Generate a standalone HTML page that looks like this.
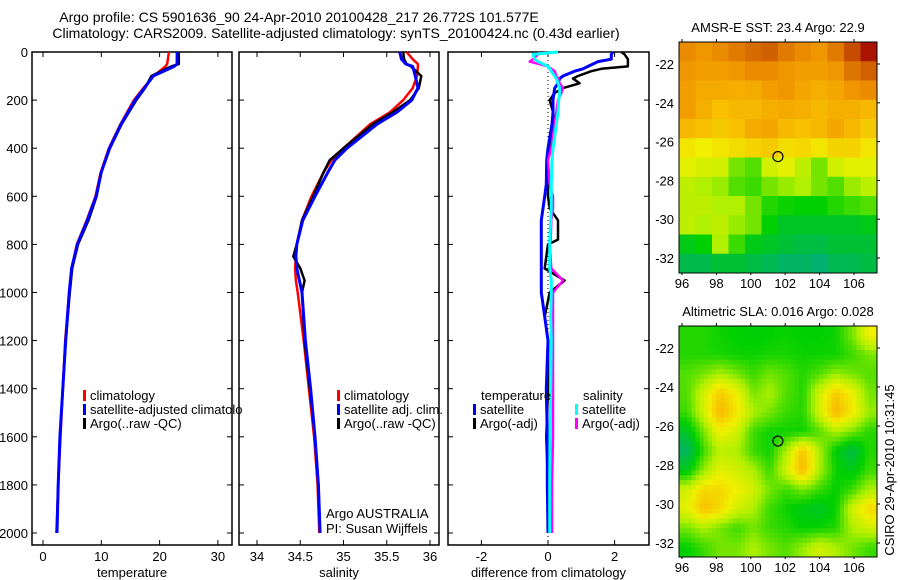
<!DOCTYPE html>
<html><head><meta charset="utf-8"><style>
body{margin:0;background:#fff;}
svg{display:block;font-family:"Liberation Sans",sans-serif;}
text{fill:#000;}
</style></head><body>
<svg id="fig" width="900" height="580" viewBox="0 0 900 580">
<text x="299" y="22" font-size="14" text-anchor="middle">Argo profile: CS 5901636_90 24-Apr-2010 20100428_217 26.772S 101.577E</text>
<text x="336" y="38" font-size="14" text-anchor="middle">Climatology: CARS2009. Satellite-adjusted climatology: synTS_20100424.nc (0.43d earlier)</text>
<g id="p1"></g>
<g id="p2"></g>
<g id="p3"></g>
<g id="m1"></g>
<g id="m2"></g>
<text transform="translate(894,470) rotate(-90)" font-size="13" text-anchor="middle">CSIRO 29-Apr-2010 10:31:45</text>
</svg>
<script>
// ---- data ----
const tempDepth=[0,50,60,100,150,200,300,400,500,600,700,800,900,1000,1200,1400,1600,1800,2000];
const tempArgo=[23.3,23.3,22.0,18.6,17.5,16.0,13.5,11.5,10.0,9.2,7.8,6.0,5.0,4.6,3.9,3.4,2.9,2.6,2.4];
const tempSat=[23.0,23.0,22.5,18.9,17.4,15.8,13.4,11.4,10.0,9.1,7.6,5.9,4.9,4.5,3.9,3.4,2.9,2.6,2.4];
const tempClim=[21.6,21.3,21.0,19.0,17.2,15.6,13.3,11.3,9.9,9.0,7.5,5.8,4.9,4.5,3.8,3.4,3.0,2.6,2.3];
const salDepth=[0,30,50,60,100,150,200,250,300,400,450,500,600,700,800,850,900,950,1000,1200,1400,1600,1800,2000];
const salArgo=[35.69,35.70,35.73,35.78,35.90,35.87,35.77,35.57,35.34,35.00,34.84,34.77,34.65,34.52,34.46,34.42,34.50,34.55,34.52,34.55,34.61,34.67,34.71,34.73];
const salClim=[35.73,35.80,35.86,35.86,35.85,35.80,35.69,35.54,35.31,35.00,34.86,34.77,34.63,34.52,34.46,34.45,34.44,34.45,34.47,34.54,34.60,34.66,34.70,34.72];
const salSat=[35.65,35.67,35.72,35.80,35.83,35.86,35.79,35.62,35.39,35.04,34.90,34.82,34.67,34.53,34.46,34.45,34.46,34.49,34.52,34.56,34.62,34.67,34.71,34.73];
const diffDepth=[0,10,30,40,60,70,80,100,110,130,150,170,200,250,300,350,400,450,550,600,650,700,780,800,900,950,1000,1100,1200,1400,1600,1800,2000];
const diffTSat=[1.95,1.9,1.9,1.5,1.2,1.05,0.8,0.45,0.35,0.3,0.2,0.18,0.15,0.15,0.12,0.06,0.0,-0.04,-0.05,-0.1,-0.15,-0.2,-0.2,-0.2,-0.2,-0.2,-0.2,-0.1,0.0,-0.05,-0.02,-0.02,0.0];
const diffTArgo=[2.2,2.3,2.4,2.4,2.4,1.6,1.3,0.9,0.75,0.95,0.45,0.2,0.05,0.15,0.2,0.1,0.05,-0.03,0.0,0.0,0.05,0.3,0.3,0.0,-0.1,0.5,0.05,-0.1,0.0,0.0,-0.05,0.0,0.0];
const diffSSat=[0.3,-0.45,-0.4,-0.3,0.0,0.06,0.1,0.2,0.25,0.3,0.35,0.35,0.32,0.3,0.25,0.2,0.15,0.12,0.1,0.1,0.1,0.08,0.05,0.05,0.05,0.1,0.1,0.08,0.1,0.08,0.06,0.05,0.05];
const diffSArgo=[-0.25,-0.3,-0.45,-0.55,0.0,0.1,0.2,0.25,0.3,0.35,0.45,0.4,0.3,0.25,0.2,0.15,0.1,0.0,0.05,0.15,0.15,0.1,0.08,0.05,0.1,0.45,0.15,0.15,0.15,0.15,0.15,0.12,0.12];
const depthTicks=[0,200,400,600,800,1000,1200,1400,1600,1800,2000];
const tempTicks=[0,10,20,30];
const salTicks=[34,34.5,35,35.5,36];
const diffTicks=[-2,0,2];
const mapLatTicks=[-22,-24,-26,-28,-30,-32];
const mapLonTicks=[96,98,100,102,104,106];
const sstGrid=[
[0.82,0.80,0.82,0.85,0.88,0.90,0.85,0.82,0.80,0.85,0.92,0.98],
[0.80,0.78,0.78,0.80,0.82,0.82,0.80,0.78,0.78,0.80,0.86,0.90],
[0.78,0.75,0.75,0.74,0.75,0.78,0.80,0.76,0.74,0.76,0.80,0.82],
[0.78,0.74,0.70,0.72,0.72,0.74,0.75,0.74,0.72,0.74,0.74,0.72],
[0.72,0.70,0.68,0.70,0.75,0.76,0.72,0.70,0.72,0.76,0.72,0.68],
[0.62,0.60,0.62,0.64,0.66,0.68,0.64,0.65,0.62,0.66,0.66,0.62],
[0.58,0.56,0.55,0.45,0.42,0.55,0.58,0.52,0.45,0.55,0.58,0.58],
[0.52,0.50,0.48,0.42,0.40,0.45,0.48,0.50,0.45,0.42,0.48,0.52],
[0.52,0.52,0.50,0.50,0.45,0.38,0.36,0.35,0.35,0.38,0.40,0.42],
[0.52,0.50,0.52,0.48,0.45,0.35,0.30,0.30,0.30,0.30,0.30,0.32],
[0.32,0.35,0.50,0.40,0.32,0.30,0.28,0.26,0.26,0.28,0.28,0.28],
[0.25,0.25,0.28,0.28,0.26,0.24,0.22,0.22,0.20,0.24,0.24,0.26]];
const slaGrid=[
[.38,.38,.36,.35,.34,.35,.36,.35,.35,.36,.45,.60],
[.38,.38,.37,.36,.36,.37,.37,.36,.36,.36,.40,.45],
[.42,.45,.50,.45,.40,.45,.42,.38,.42,.48,.45,.42],
[.42,.55,.68,.60,.45,.50,.42,.38,.55,.68,.60,.45],
[.40,.55,.72,.62,.50,.45,.40,.38,.55,.72,.62,.48],
[.30,.45,.60,.55,.40,.36,.36,.36,.42,.50,.45,.38],
[.22,.40,.52,.50,.40,.36,.50,.70,.50,.34,.25,.38],
[.32,.48,.58,.55,.50,.40,.55,.72,.50,.36,.32,.40],
[.55,.65,.65,.60,.55,.45,.40,.45,.40,.35,.40,.50],
[.58,.70,.65,.55,.50,.40,.36,.32,.30,.35,.55,.65],
[.45,.50,.45,.40,.45,.40,.38,.35,.36,.38,.50,.55],
[.35,.40,.45,.45,.50,.45,.42,.48,.55,.50,.45,.40]];
const argoLon=101.577, argoLat=-26.772;

// ---- helpers ----
const NS='http://www.w3.org/2000/svg';
function mk(parent,tag,attrs){const e=document.createElementNS(NS,tag);for(const k in attrs)e.setAttribute(k,attrs[k]);parent.appendChild(e);return e;}
const yD=d=>52+d*0.2405;
const axTop=52,axBot=545;
function panel(g,x0,x1,xs,ticks,lab,xlabel,showY){
  const r=mk(g,'rect',{x:x0,y:axTop,width:x1-x0,height:axBot-axTop,fill:'none',stroke:'#000','stroke-width':1.5});
  
  
  ticks.forEach(t=>{const x=xs(t);
    mk(g,'line',{x1:x,x2:x,y1:axBot,y2:axBot-5,stroke:'#000'});
    mk(g,'line',{x1:x,x2:x,y1:axTop,y2:axTop+5,stroke:'#000'});
    const tx=mk(g,'text',{x:x,y:axBot+16,'font-size':13,'text-anchor':'middle'});tx.textContent=lab(t);
    
    });
  depthTicks.forEach(d=>{const y=yD(d);
    mk(g,'line',{x1:x0,x2:x0+5,y1:y,y2:y,stroke:'#000'});
    mk(g,'line',{x1:x1,x2:x1-5,y1:y,y2:y,stroke:'#000'});
    if(showY){const tx=mk(g,'text',{x:x0-4,y:y+5,'font-size':13,'text-anchor':'end'});tx.textContent=d;
      
      }});
  const xl=mk(g,'text',{x:(x0+x1)/2,y:577,'font-size':13,'text-anchor':'middle'});xl.textContent=xlabel;
  
  
}
function line(g,xs,vals,depths,color,w,name){
  const pts=vals.map((v,i)=>xs(v).toFixed(1)+','+yD(depths[i]).toFixed(1)).join(' ');
  const p=mk(g,'polyline',{points:pts,fill:'none',stroke:color,'stroke-width':w,'stroke-linejoin':'round'});
  
  
}
function legend(g,x,y,color,label){
  mk(g,'rect',{x:x,y:y-10,width:3,height:11,fill:color});
  const t=mk(g,'text',{x:x+7,y:y,'font-size':13});t.textContent=label;
  
  
}
function txt(g,x,y,s,size,anchor,name){const t=mk(g,'text',{x:x,y:y,'font-size':size,'text-anchor':anchor||'start'});t.textContent=s;
  
  return t;}

// ---- panel 1 ----
const g1=document.getElementById('p1');
const xT=t=>43+t*5.83;
panel(g1,32,232,xT,tempTicks,t=>t,'temperature',true);
line(g1,xT,tempClim,tempDepth,'#f00',2.5,'temperature-climatology-line');
line(g1,xT,tempArgo,tempDepth,'#000',2.5,'temperature-argo-line');
line(g1,xT,tempSat,tempDepth,'#00f',3,'temperature-satellite-line');
legend(g1,83,400,'#f00','climatology');
legend(g1,83,414,'#00f','satellite-adjusted climatolo');
legend(g1,83,428,'#000','Argo(..raw -QC)');

// ---- panel 2 ----
const g2=document.getElementById('p2');
const xS=s=>257+(s-34)*86.5;
panel(g2,239,439,xS,salTicks,t=>t,'salinity',false);
line(g2,xS,salClim,salDepth,'#f00',2.5,'salinity-climatology-line');
line(g2,xS,salArgo,salDepth,'#000',2.5,'salinity-argo-line');
line(g2,xS,salSat,salDepth,'#00f',3,'salinity-satellite-line');
legend(g2,337,400,'#f00','climatology');
legend(g2,337,414,'#00f','satellite adj. clim.');
legend(g2,337,428,'#000','Argo(..raw -QC)');
txt(g2,326,518,'Argo AUSTRALIA',13,'start','argo-australia-label');
txt(g2,326,533,'PI: Susan Wijffels',13,'start','pi-label');

// ---- panel 3 ----
const g3=document.getElementById('p3');
const xDf=d=>548+d*33.3;
panel(g3,448,649,xDf,diffTicks,t=>t,'difference from climatology',false);
mk(g3,'line',{x1:xDf(0),x2:xDf(0),y1:axTop,y2:axBot,stroke:'#000','stroke-dasharray':'1,3'});
line(g3,xDf,diffTArgo,diffDepth,'#000',2.5,'diff-temp-argo-line');
line(g3,xDf,diffTSat,diffDepth,'#00f',3,'diff-temp-satellite-line');
line(g3,xDf,diffSArgo,diffDepth,'#f0f',2.5,'diff-sal-argo-line');
line(g3,xDf,diffSSat,diffDepth,'#0ff',3,'diff-sal-satellite-line');
txt(g3,481,400,'temperature',13,'start','legend-temperature-heading');
txt(g3,583,400,'salinity',13,'start','legend-salinity-heading');
legend(g3,473,414,'#00f','satellite');
legend(g3,473,428,'#000','Argo(-adj)');
legend(g3,575,414,'#0ff','satellite');
legend(g3,575,428,'#f0f','Argo(-adj)');

// ---- maps ----
const stops=[[0,[0,200,230]],[0.2,[0,176,112]],[0.35,[0,208,0]],[0.5,[176,240,0]],[0.6,[240,240,0]],[0.7,[248,192,0]],[0.8,[240,150,0]],[0.9,[208,96,0]],[1,[160,0,0]]];
function cmap(v){for(let i=1;i<stops.length;i++){if(v<=stops[i][0]){const a=stops[i-1],b=stops[i],f=(v-a[0])/(b[0]-a[0]);
  return 'rgb('+a[1].map((c,k)=>Math.round(c+(b[1][k]-c)*f)).join(',')+')';}}return 'rgb(160,0,0)';}
function drawMap(g,mx0,mx1,my0,my1,lat22y,lat32y,title,grid,smooth){
  const lonX=l=>682+(l-96)*17.2;
  const latY=l=>lat22y+(-22-l)*(lat32y-lat22y)/10;
  const rows=grid.length,cols=grid[0].length;
  const nr=rows*4,nc=cols*4;
  const cw=(mx1-mx0)/nc,ch=(my1-my0)/nr;
  for(let r=0;r<nr;r++)for(let c=0;c<nc;c++){
    let v;
    if(smooth){const gy=Math.min(rows-1,Math.max(0,(r+0.5)/4-0.5)),gx=Math.min(cols-1,Math.max(0,(c+0.5)/4-0.5));
      const y0=Math.floor(gy),x0=Math.floor(gx),y1=Math.min(rows-1,y0+1),x1=Math.min(cols-1,x0+1),fy=gy-y0,fx=gx-x0;
      v=grid[y0][x0]*(1-fx)*(1-fy)+grid[y0][x1]*fx*(1-fy)+grid[y1][x0]*(1-fx)*fy+grid[y1][x1]*fx*fy;}
    else{v=grid[Math.floor(r/4)][Math.floor(c/4)];}
    const cell=mk(g,'rect',{x:(mx0+c*cw).toFixed(2),y:(my0+r*ch).toFixed(2),width:(cw+0.4).toFixed(2),height:(ch+0.4).toFixed(2),fill:cmap(v)});
    
    
  }
  const fr=mk(g,'rect',{x:mx0,y:my0,width:mx1-mx0,height:my1-my0,fill:'none',stroke:'#000'});
  
  
  mapLatTicks.forEach(l=>{const y=latY(l);mk(g,'line',{x1:mx1,x2:mx1+3,y1:y,y2:y,stroke:'#000'});
    txt(g,mx0-5,y+5,String(l),13,'end','map-lat-tick-label');});
  mapLonTicks.forEach(l=>{const x=lonX(l);mk(g,'line',{x1:x,x2:x,y1:my0,y2:my0-3,stroke:'#000'});mk(g,'line',{x1:x,x2:x,y1:my1,y2:my1+2,stroke:'#000'});
    txt(g,x,my1+15,String(l),13,'middle','map-lon-tick-label');});
  txt(g,(mx0+mx1)/2,my0-10,title,13,'middle','map-title');
  const c=mk(g,'circle',{cx:lonX(argoLon),cy:latY(argoLat),r:5,fill:'none',stroke:'#000','stroke-width':1.2});
  
  
}
drawMap(document.getElementById('m1'),679,877,42,273,64,258,'AMSR-E SST: 23.4  Argo: 22.9',sstGrid,false);
drawMap(document.getElementById('m2'),679,877,326,557,348,543,'Altimetric SLA: 0.016  Argo: 0.028',slaGrid,true);
</script>
</body></html>
